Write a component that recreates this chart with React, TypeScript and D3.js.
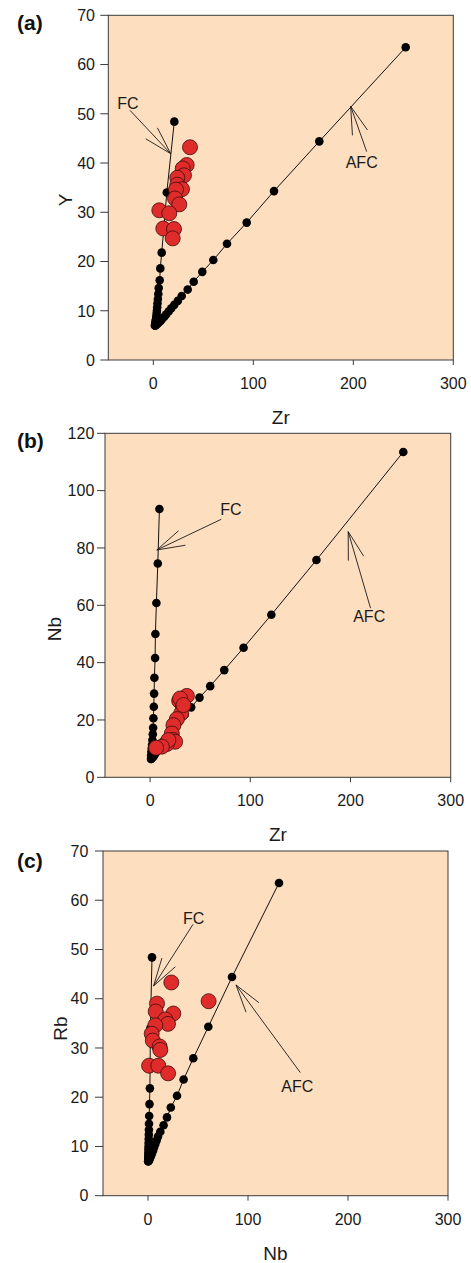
import React from "react";
import * as d3 from "d3";

const W = 471;
const H = 1263;
const FONT = "'Liberation Sans', Arial, Helvetica, sans-serif";

// ---- panel (a) Zr vs Y ----
const fcZrA = [1.7, 1.9, 2.1, 2.4, 2.7, 3.0, 3.3, 3.6, 3.9, 4.2, 4.6, 5.0, 5.4, 6.4, 7.0, 8.4, 10.4, 13.5, 21.0];
const fcYA = [7.0, 7.3, 7.6, 7.9, 8.3, 8.8, 9.4, 10.0, 10.7, 11.5, 12.4, 13.4, 14.6, 16.2, 18.6, 21.8, 26.3, 34.0, 48.4];
const afcZrA = [1.7, 2.2, 3.3, 4.5, 6.0, 7.5, 9.0, 11.0, 13.0, 15.5, 18.0, 21.0, 24.5, 28.4, 34.4, 40.4, 49.0, 60.0, 73.7, 93.4, 120.7, 166.0, 252.4];
const afcYA = [7.0, 7.0, 7.2, 7.4, 7.7, 8.0, 8.4, 8.8, 9.3, 9.9, 10.5, 11.2, 12.0, 13.0, 14.3, 15.9, 17.9, 20.3, 23.6, 27.9, 34.3, 44.4, 63.5];
const smpZrA = [36.7, 33.4, 29.4, 30.7, 24.0, 24.0, 28.7, 22.7, 21.7, 26.0, 6.0, 16.0, 10.0, 20.7, 19.4];
const smpYA = [43.2, 39.6, 38.9, 37.5, 37.0, 35.6, 34.7, 34.6, 32.8, 31.6, 30.4, 29.8, 26.7, 26.6, 24.7];

// ---- panel (b) Zr vs Nb ----
const fcZrB = [1.0, 1.0, 1.3, 1.7, 2.0, 2.3, 2.7, 3.0, 3.3, 3.7, 4.0, 4.3, 5.0, 5.3, 6.3, 7.7, 9.3];
const fcNbB = [6.4, 7.6, 8.9, 10.1, 11.3, 13.0, 15.0, 17.3, 20.6, 24.6, 29.2, 34.7, 41.6, 50.0, 60.8, 74.6, 93.6];
const afcZrB = [1.0, 2.2, 3.3, 4.5, 6.0, 7.5, 9.0, 11.0, 13.0, 15.5, 18.0, 21.0, 24.5, 28.4, 34.4, 41.0, 49.3, 60.0, 74.0, 93.3, 121.0, 166.0, 252.7];
const afcNbB = [6.4, 6.8, 7.2, 7.9, 8.7, 9.5, 10.3, 11.3, 12.4, 13.5, 14.6, 16.0, 17.5, 19.4, 21.8, 24.4, 27.8, 31.8, 37.4, 45.2, 56.7, 75.8, 113.5];
const smpZrB = [36.7, 29.0, 32.7, 31.0, 26.7, 23.3, 21.7, 23.3, 25.0, 16.7, 18.3, 11.7, 6.0, 30.0, 33.3];
const smpNbB = [28.4, 26.7, 24.9, 22.3, 20.3, 18.2, 15.3, 13.0, 12.4, 11.6, 13.0, 10.7, 10.3, 27.5, 25.2];

// ---- panel (c) Nb vs Rb ----
const fcNbC = [0.2, 0.25, 0.3, 0.35, 0.4, 0.45, 0.5, 0.55, 0.6, 0.7, 0.8, 0.9, 1.0, 1.2, 1.5, 1.9, 2.1, 2.4, 4.0];
const fcRbC = [7.0, 7.3, 7.6, 7.9, 8.3, 8.8, 9.4, 10.0, 10.7, 11.5, 12.4, 13.4, 14.6, 16.2, 18.6, 21.8, 26.5, 34.0, 48.4];
const afcNbC = [0.2, 0.5, 1.0, 1.5, 2.1, 2.8, 3.5, 4.3, 5.2, 6.2, 7.3, 8.6, 10.0, 12.3, 15.6, 19.0, 22.8, 29.0, 35.6, 45.3, 60.3, 84.0, 131.0];
const afcRbC = [7.0, 7.0, 7.2, 7.4, 7.7, 8.0, 8.4, 8.8, 9.3, 9.9, 10.5, 11.2, 12.0, 13.0, 14.3, 15.9, 17.9, 20.3, 23.6, 27.9, 34.3, 44.4, 63.5];
const smpNbC = [23.3, 60.6, 9.0, 7.7, 25.3, 17.3, 20.0, 7.3, 3.7, 4.8, 11.6, 12.3, 1.1, 10.3, 20.1];
const smpRbC = [43.3, 39.5, 39.0, 37.4, 37.0, 35.8, 34.9, 34.6, 32.9, 31.5, 30.3, 29.6, 26.4, 26.4, 24.85];

const xTicks = [0, 100, 200, 300];

const zip = (a: number[], b: number[]) => a.map((v, i) => [v, b[i]] as [number, number]);

const panels = [
  {
    label: "(a)", labelY: 30,
    left: 108.3, top: 15.3, w: 345, h: 344.7,
    yMax: 70, yTicks: d3.range(0, 71, 10), yLabelDx: 13.3,
    xTitle: "Zr", yTitle: "Y", yTitleX: 65, yTitleY: 200,
    fc: zip(fcZrA, fcYA), afc: zip(afcZrA, afcYA), smp: zip(smpZrA, smpYA),
    fcArrow: { from: [-23.3, 50.7], to: [17.4, 41.9], text: [-36, 51.05] },
    afcArrow: { from: [213.4, 42.3], to: [197.4, 51.5], text: [192.4, 38.9] },
  },
  {
    label: "(b)", labelY: 447.5,
    left: 105, top: 433.3, w: 345.7, h: 344,
    yMax: 120, yTicks: d3.range(0, 121, 20), yLabelDx: 10.7,
    xTitle: "Zr", yTitle: "Nb", yTitleX: 54, yTitleY: 629,
    fc: zip(fcZrB, fcNbB), afc: zip(afcZrB, afcNbB), smp: zip(smpZrB, smpNbB),
    fcArrow: { from: [71, 90.0], to: [6.7, 79.3], text: [70, 91.5] },
    afcArrow: { from: [220, 59.0], to: [197.7, 85.7], text: [202.7, 54.3] },
  },
  {
    label: "(c)", labelY: 868,
    left: 103, top: 851, w: 345, h: 344.7,
    yMax: 70, yTicks: d3.range(0, 71, 10), yLabelDx: 14.7,
    xTitle: "Nb", yTitle: "Rb", yTitleX: 60, yTitleY: 1028.5,
    fc: zip(fcNbC, fcRbC), afc: zip(afcNbC, afcRbC), smp: zip(smpNbC, smpRbC),
    fcArrow: { from: [45, 55.1], to: [5.6, 42.6], text: [35, 55.1] },
    afcArrow: { from: [152.3, 25.0], to: [88, 42.8], text: [133.3, 21.1] },
  },
];

function Arrow({ x1, y1, x2, y2 }: { x1: number; y1: number; x2: number; y2: number }) {
  // open arrow head at (x2, y2)
  const ang = Math.atan2(y1 - y2, x1 - x2);
  const len = 29;
  const spread = (16 * Math.PI) / 180;
  const h1 = [x2 + len * Math.cos(ang + spread), y2 + len * Math.sin(ang + spread)];
  const h2 = [x2 + len * Math.cos(ang - spread), y2 + len * Math.sin(ang - spread)];
  return (
    <g stroke="#1a1a1a" strokeWidth={0.9} fill="none">
      <line x1={x1} y1={y1} x2={x2} y2={y2} />
      <line x1={x2} y1={y2} x2={h1[0]} y2={h1[1]} />
      <line x1={x2} y1={y2} x2={h2[0]} y2={h2[1]} />
    </g>
  );
}

function Panel({ p }: { p: (typeof panels)[number] }) {
  const x = d3.scaleLinear().domain([-45, 300]).range([p.left, p.left + p.w]);
  const y = d3.scaleLinear().domain([0, p.yMax]).range([p.top + p.h, p.top]);
  const line = d3.line<[number, number]>().x((d) => x(d[0])).y((d) => y(d[1]));
  const bottom = p.top + p.h;
  const cx = p.left + p.w / 2;

  return (
    <g fontFamily={FONT}>
      <text x={17} y={p.labelY} fontSize={21} fontWeight="bold" fill="#111">{p.label}</text>
      <rect x={p.left} y={p.top} width={p.w} height={p.h} fill="#fddebf" stroke="#3a3a3a" strokeWidth={1} />

      {p.yTicks.map((t) => (
        <g key={"y" + t}>
          <line x1={p.left - 8} x2={p.left} y1={y(t)} y2={y(t)} stroke="#3a3a3a" />
          <text x={p.left - p.yLabelDx} y={y(t)} dy="0.36em" textAnchor="end" fontSize={16} fill="#1a1a1a">{t}</text>
        </g>
      ))}
      {xTicks.map((t) => (
        <g key={"x" + t}>
          <line x1={x(t)} x2={x(t)} y1={bottom} y2={bottom + 5} stroke="#3a3a3a" />
          <text x={x(t)} y={bottom + 29} textAnchor="middle" fontSize={16} fill="#1a1a1a">{t}</text>
        </g>
      ))}
      <text x={cx} y={bottom + 64} textAnchor="middle" fontSize={19} fill="#1a1a1a">{p.xTitle}</text>
      <text transform={`translate(${p.yTitleX},${p.yTitleY}) rotate(-90)`} dy="0.36em" textAnchor="middle" fontSize={19} fill="#1a1a1a">{p.yTitle}</text>

      <path d={line(p.fc) || ""} fill="none" stroke="#111" strokeWidth={1} />
      <path d={line(p.afc) || ""} fill="none" stroke="#111" strokeWidth={1} />
      {[...p.fc, ...p.afc].map((d, i) => (
        <circle key={"m" + i} cx={x(d[0])} cy={y(d[1])} r={4.3} fill="#000" />
      ))}
      {p.smp.map((d, i) => (
        <circle key={"s" + i} cx={x(d[0])} cy={y(d[1])} r={7.5} fill="#e02b2b" stroke="#3d0c0c" strokeWidth={0.8} />
      ))}

      <Arrow x1={x(p.fcArrow.from[0])} y1={y(p.fcArrow.from[1])} x2={x(p.fcArrow.to[0])} y2={y(p.fcArrow.to[1])} />
      <Arrow x1={x(p.afcArrow.from[0])} y1={y(p.afcArrow.from[1])} x2={x(p.afcArrow.to[0])} y2={y(p.afcArrow.to[1])} />
      <text x={x(p.fcArrow.text[0])} y={y(p.fcArrow.text[1])} fontSize={16} fill="#1a1a1a">FC</text>
      <text x={x(p.afcArrow.text[0])} y={y(p.afcArrow.text[1])} fontSize={16} fill="#1a1a1a">AFC</text>
    </g>
  );
}

export default function App() {
  return (
    <svg width={W} height={H} style={{ position: "absolute", left: 0, top: 0, background: "#fff" }}>
      {panels.map((p) => (
        <Panel key={p.label} p={p} />
      ))}
    </svg>
  );
}
